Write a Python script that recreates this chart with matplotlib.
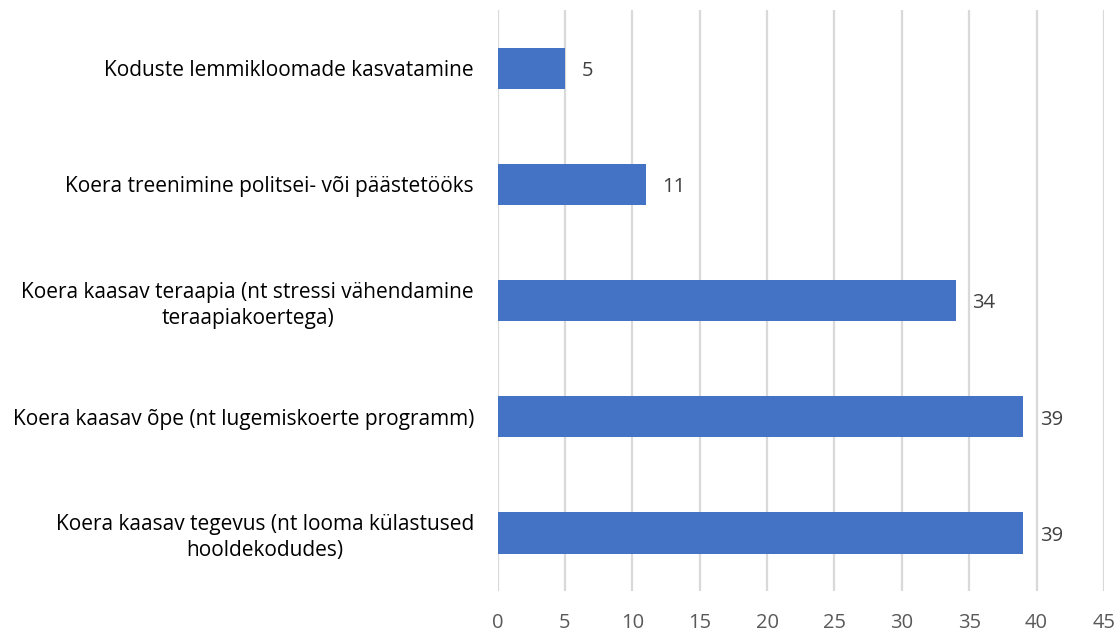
import matplotlib
matplotlib.use("Agg")
import matplotlib.pyplot as plt

categories = [
    "Koera kaasav tegevus (nt looma külastused\nhooldekodudes)",
    "Koera kaasav õpe (nt lugemiskoerte programm)",
    "Koera kaasav teraapia (nt stressi vähendamine\nteraapiakoertega)",
    "Koera treenimine politsei- või päästetööks",
    "Koduste lemmikloomade kasvatamine",
]
values = [39, 39, 34, 11, 5]
xticks = [0, 5, 10, 15, 20, 25, 30, 35, 40, 45]

BAR = "#4472C4"
GRID = "#D9D9D9"

plt.rcParams["font.family"] = ["Open Sans", "DejaVu Sans"]

fig = plt.figure(figsize=(11.19, 6.35), dpi=100)
ax = fig.add_axes([0.4446, 0.0693, 0.9866 - 0.4446, 0.984 - 0.0693])

ypos = list(range(len(categories)))
ax.barh(ypos, values, height=0.355, color=BAR, zorder=3)
for y, v in zip(ypos, values):
    ax.annotate(str(v), (v, y), xytext=(12, -2), textcoords="offset points",
                va="center", ha="left", fontsize=14.5, color="#404040")

ax.set_xlim(0, 45)
ax.set_ylim(-0.5, len(categories) - 0.5)
ax.set_xticks(xticks)
ax.set_xticklabels([str(t) for t in xticks], fontsize=14.5, color="#595959")
ax.set_yticks(ypos)
ax.set_yticklabels(categories, fontsize=15, color="#000000",
                   multialignment="center", linespacing=1.3)
ax.tick_params(axis="both", length=0)
ax.tick_params(axis="x", pad=16)
ax.tick_params(axis="y", pad=17)
ax.xaxis.grid(True, color=GRID, linewidth=1.6, zorder=0)
for s in ax.spines.values():
    s.set_visible(False)

fig.savefig("out.png", dpi=100)
